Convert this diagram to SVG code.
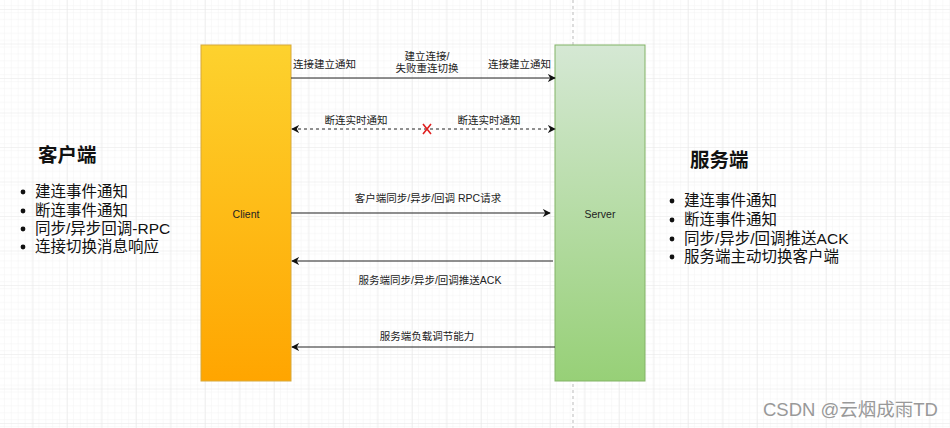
<svg xmlns="http://www.w3.org/2000/svg" width="950" height="428" viewBox="0 0 950 428">
<defs>
<pattern id="minor" width="6.9" height="6.9" patternUnits="userSpaceOnUse" x="-1" y="10">
<path d="M6.9 0V6.9H0" fill="none" stroke="#f3f3f3" stroke-width="1"/>
</pattern>
<pattern id="major" width="34.5" height="34.5" patternUnits="userSpaceOnUse" x="-1" y="10">
<rect width="34.5" height="34.5" fill="url(#minor)"/>
<path d="M34.5 0V34.5H0" fill="none" stroke="#e6e6e6" stroke-width="1"/>
</pattern>
<linearGradient id="gY" x1="0" y1="0" x2="0" y2="1">
<stop offset="0" stop-color="#fdd22e"/>
<stop offset="1" stop-color="#ffa500"/>
</linearGradient>
<linearGradient id="gG" x1="0" y1="0" x2="0" y2="1">
<stop offset="0" stop-color="#d5e8d4"/>
<stop offset="1" stop-color="#97d077"/>
</linearGradient>
<marker id="ah" viewBox="0 0 10 10" refX="9" refY="5" markerWidth="8" markerHeight="8" orient="auto-start-reverse" markerUnits="userSpaceOnUse">
<path d="M0 0L10 5L0 10L3 5Z" fill="#111"/>
</marker>
<style>
.lbl{font-family:"Liberation Sans","Noto Sans CJK SC",sans-serif;font-size:10.5px;fill:#222}
.big{font-family:"Liberation Sans","Noto Sans CJK SC",sans-serif;font-size:19.5px;font-weight:bold;fill:#111}
.li{font-family:"Liberation Sans","Noto Sans CJK SC",sans-serif;font-size:15.5px;fill:#111}
.ln{stroke:#222;stroke-width:1;fill:none}
</style>
</defs>
<rect width="950" height="428" fill="#fff"/>
<rect width="950" height="428" fill="url(#major)"/>
<line x1="573" y1="0" x2="573" y2="428" stroke="#bbb" stroke-width="1" stroke-dasharray="3 3"/>
<g id="client">
<rect x="201" y="45" width="90" height="336" fill="url(#gY)" stroke="#d6a83a" stroke-width="1"/>
<text class="lbl" x="246" y="218" text-anchor="middle">Client</text>
</g>
<g id="server">
<rect x="555" y="45" width="90" height="336" fill="url(#gG)" stroke="#82b366" stroke-width="1"/>
<text class="lbl" x="600" y="218" text-anchor="middle">Server</text>
</g>
<g id="connectors">
<line class="ln" x1="291" y1="78" x2="555" y2="78" marker-end="url(#ah)"/>
<text class="lbl" x="293" y="68">连接建立通知</text>
<text class="lbl" x="427" y="60" text-anchor="middle">建立连接/</text>
<text class="lbl" x="427" y="72" text-anchor="middle">失败重连切换</text>
<text class="lbl" x="551" y="68" text-anchor="end">连接建立通知</text>
<line class="ln" x1="292" y1="129" x2="555" y2="129" stroke-dasharray="3 3" marker-start="url(#ah)" marker-end="url(#ah)"/>
<path d="M423 124L431 134M431 124L423 134" stroke="#e02020" stroke-width="1.6" fill="none"/>
<text class="lbl" x="356" y="124" text-anchor="middle">断连实时通知</text>
<text class="lbl" x="489" y="124" text-anchor="middle">断连实时通知</text>
<line class="ln" x1="291" y1="213" x2="550" y2="213" marker-end="url(#ah)"/>
<text class="lbl" x="428" y="202" text-anchor="middle">客户端同步/异步/回调 RPC请求</text>
<line class="ln" x1="553" y1="261" x2="292" y2="261" marker-end="url(#ah)"/>
<text class="lbl" x="430" y="284" text-anchor="middle">服务端同步/异步/回调推送ACK</text>
<line class="ln" x1="555" y1="347" x2="292" y2="347" marker-end="url(#ah)"/>
<text class="lbl" x="427" y="340" text-anchor="middle">服务端负载调节能力</text>
</g>
<g id="client-notes">
<text class="big" x="38" y="162">客户端</text>
<g fill="#111"><circle cx="23" cy="192" r="2.4"/><circle cx="23" cy="211" r="2.4"/><circle cx="23" cy="229" r="2.4"/><circle cx="23" cy="247" r="2.4"/></g>
<text class="li" x="35" y="197">建连事件通知</text>
<text class="li" x="35" y="216">断连事件通知</text>
<text class="li" x="35" y="234">同步/异步回调-RPC</text>
<text class="li" x="35" y="252">连接切换消息响应</text>
</g>
<g id="server-notes">
<text class="big" x="690" y="167">服务端</text>
<g fill="#111"><circle cx="672" cy="201" r="2.4"/><circle cx="672" cy="220" r="2.4"/><circle cx="672" cy="239" r="2.4"/><circle cx="672" cy="257" r="2.4"/></g>
<text class="li" x="684" y="206">建连事件通知</text>
<text class="li" x="684" y="225">断连事件通知</text>
<text class="li" x="684" y="244">同步/异步/回调推送ACK</text>
<text class="li" x="684" y="262">服务端主动切换客户端</text>
</g>
<text x="938" y="416" text-anchor="end" font-family="Liberation Sans,Noto Sans CJK SC,sans-serif" font-size="18.5" fill="#999">CSDN @云烟成雨TD</text>
</svg>
